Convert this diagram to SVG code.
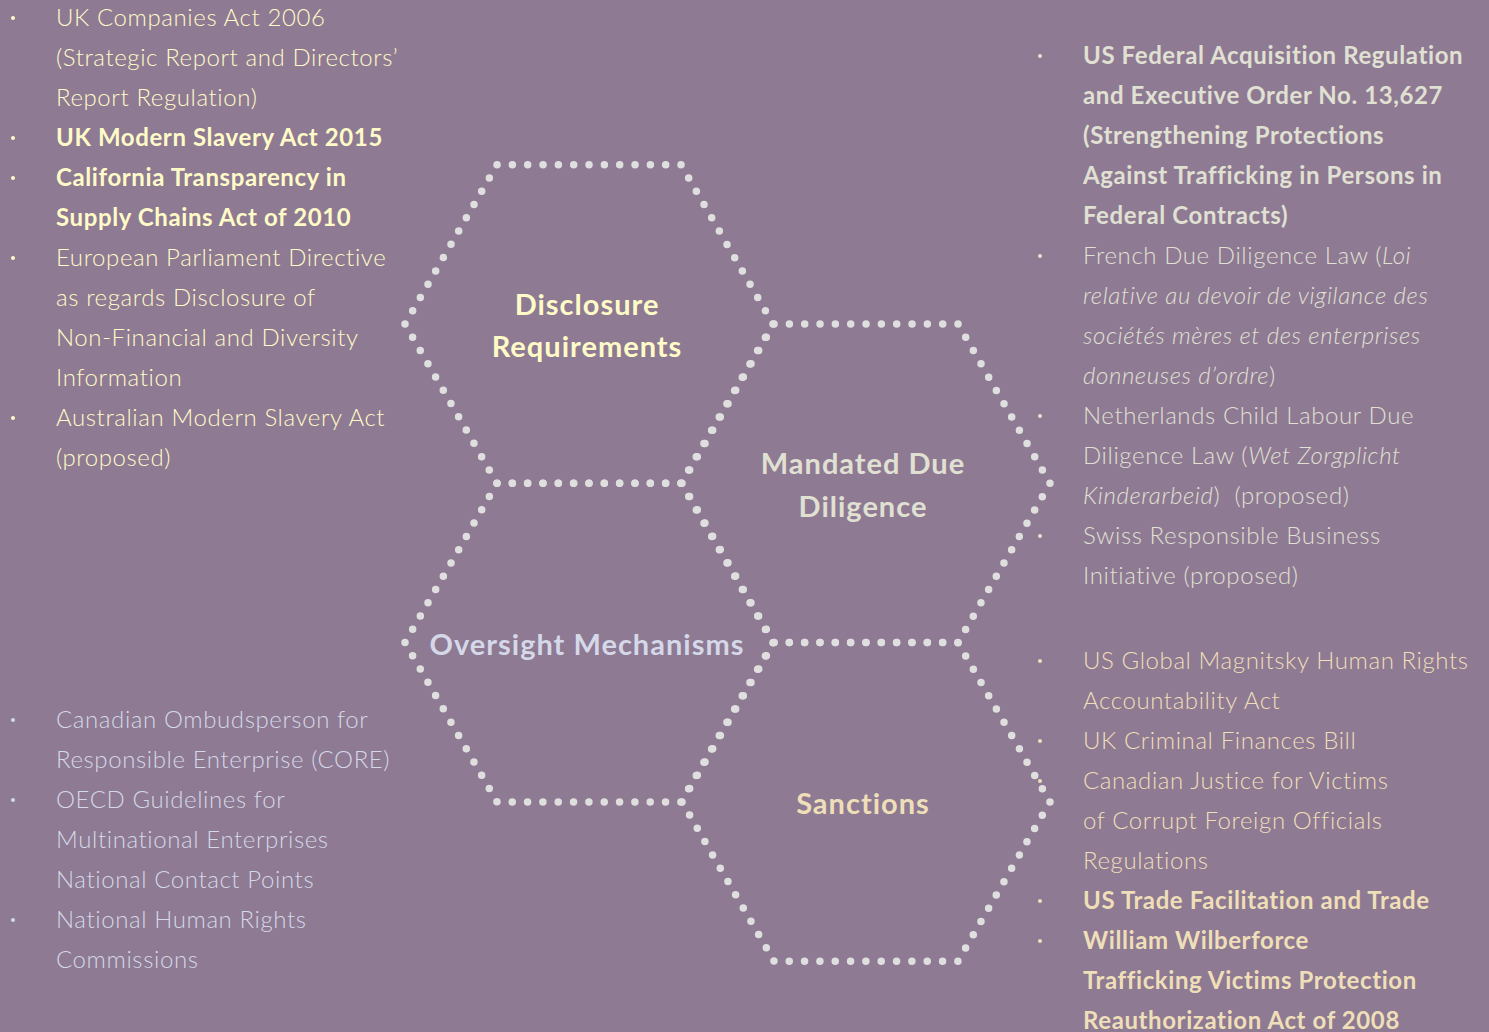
<svg xmlns="http://www.w3.org/2000/svg" width="1489" height="1032" viewBox="0 0 1489 1032">
<style>
  .hex { fill: none; stroke: #E0DFE0; stroke-width: 7.5; stroke-linecap: round; stroke-dasharray: 0 15.333; }
  .lbl { font-family: Lato, "Noto Sans", "Liberation Sans", sans-serif; font-weight: 700; font-size: 29px; letter-spacing: 1px; text-anchor: middle; }
  .li { font-family: Lato, "Noto Sans", "Liberation Sans", sans-serif; font-weight: 300; font-size: 24px; letter-spacing: 0.6px; }
  .b { font-weight: 700; }
  .i { font-style: italic; }
  .yel { fill: #FFFBC8; }
  .gry { fill: #E0E0D3; }
  .blu { fill: #D4D8E8; }
  .tan { fill: #EFDFB9; }
</style>
<rect x="0" y="0" width="1489" height="1032" fill="#8E7A92"/>

<g id="connectors"></g>

<g id="node-disclosure">
  <path class="hex" d="M405,324 L497,164.7 L681,164.7 L773,324 L681,483.3 L497,483.3 Z"/>
  <text class="lbl yel" x="587" y="315">Disclosure</text>
  <text class="lbl yel" x="587" y="357">Requirements</text>
</g>

<g id="node-due-diligence">
  <path class="hex" d="M682,483.3 L774,324 L958,324 L1050,483.3 L958,642.6 L774,642.6 Z"/>
  <text class="lbl gry" x="863" y="474">Mandated Due</text>
  <text class="lbl gry" x="863" y="517">Diligence</text>
</g>

<g id="node-oversight">
  <path class="hex" d="M405,642.6 L497,483.3 L681,483.3 L773,642.6 L681,801.9 L497,801.9 Z"/>
  <text class="lbl blu" x="587" y="655">Oversight Mechanisms</text>
</g>

<g id="node-sanctions">
  <path class="hex" d="M682,801.9 L774,642.6 L958,642.6 L1050,801.9 L958,961.2 L774,961.2 Z"/>
  <text class="lbl tan" x="863" y="814">Sanctions</text>
</g>

<g id="list-disclosure" class="yel">
  <circle cx="13" cy="18" r="2"/>
  <circle cx="13" cy="138" r="2"/>
  <circle cx="13" cy="178" r="2"/>
  <circle cx="13" cy="258" r="2"/>
  <circle cx="13" cy="418" r="2"/>
  <text class="li" x="56" y="26">UK Companies Act 2006</text>
  <text class="li" x="56" y="66">(Strategic Report and Directors’</text>
  <text class="li" x="56" y="106">Report Regulation)</text>
  <text class="li b" x="56" y="146">UK Modern Slavery Act 2015</text>
  <text class="li b" x="56" y="186">California Transparency in</text>
  <text class="li b" x="56" y="226">Supply Chains Act of 2010</text>
  <text class="li" x="56" y="266">European Parliament Directive</text>
  <text class="li" x="56" y="306">as regards Disclosure of</text>
  <text class="li" x="56" y="346">Non-Financial and Diversity</text>
  <text class="li" x="56" y="386">Information</text>
  <text class="li" x="56" y="426">Australian Modern Slavery Act</text>
  <text class="li" x="56" y="466">(proposed)</text>
</g>

<g id="list-oversight" class="blu">
  <circle cx="13" cy="720" r="2"/>
  <circle cx="13" cy="800" r="2"/>
  <circle cx="13" cy="920" r="2"/>
  <text class="li" x="56" y="728">Canadian Ombudsperson for</text>
  <text class="li" x="56" y="768">Responsible Enterprise (CORE)</text>
  <text class="li" x="56" y="808">OECD Guidelines for</text>
  <text class="li" x="56" y="848">Multinational Enterprises</text>
  <text class="li" x="56" y="888">National Contact Points</text>
  <text class="li" x="56" y="928">National Human Rights</text>
  <text class="li" x="56" y="968">Commissions</text>
</g>

<g id="list-due-diligence" class="gry">
  <circle cx="1040" cy="56" r="2"/>
  <circle cx="1040" cy="256" r="2"/>
  <circle cx="1040" cy="416" r="2"/>
  <circle cx="1040" cy="536" r="2"/>
  <text class="li b" x="1083" y="64">US Federal Acquisition Regulation</text>
  <text class="li b" x="1083" y="104">and Executive Order No. 13,627</text>
  <text class="li b" x="1083" y="144">(Strengthening Protections</text>
  <text class="li b" x="1083" y="184">Against Trafficking in Persons in</text>
  <text class="li b" x="1083" y="224">Federal Contracts)</text>
  <text class="li" x="1083" y="264">French Due Diligence Law (<tspan class="i">Loi</tspan></text>
  <text class="li i" x="1083" y="304">relative au devoir de vigilance des</text>
  <text class="li i" x="1083" y="344">sociétés mères et des enterprises</text>
  <text class="li" x="1083" y="384"><tspan class="i">donneuses d’ordre</tspan>)</text>
  <text class="li" x="1083" y="424">Netherlands Child Labour Due</text>
  <text class="li" x="1083" y="464">Diligence Law (<tspan class="i">Wet Zorgplicht</tspan></text>
  <text class="li" x="1083" y="504" xml:space="preserve"><tspan class="i">Kinderarbeid</tspan>)  (proposed)</text>
  <text class="li" x="1083" y="544">Swiss Responsible Business</text>
  <text class="li" x="1083" y="584">Initiative (proposed)</text>
</g>

<g id="list-sanctions" class="tan">
  <circle cx="1040" cy="661" r="2"/>
  <circle cx="1040" cy="741" r="2"/>
  <circle cx="1040" cy="781" r="2"/>
  <circle cx="1040" cy="901" r="2"/>
  <circle cx="1040" cy="941" r="2"/>
  <text class="li" x="1083" y="669">US Global Magnitsky Human Rights</text>
  <text class="li" x="1083" y="709">Accountability Act</text>
  <text class="li" x="1083" y="749">UK Criminal Finances Bill</text>
  <text class="li" x="1083" y="789">Canadian Justice for Victims</text>
  <text class="li" x="1083" y="829">of Corrupt Foreign Officials</text>
  <text class="li" x="1083" y="869">Regulations</text>
  <text class="li b" x="1083" y="909">US Trade Facilitation and Trade</text>
  <text class="li b" x="1083" y="949">William Wilberforce</text>
  <text class="li b" x="1083" y="989">Trafficking Victims Protection</text>
  <text class="li b" x="1083" y="1029">Reauthorization Act of 2008</text>
</g>
</svg>
